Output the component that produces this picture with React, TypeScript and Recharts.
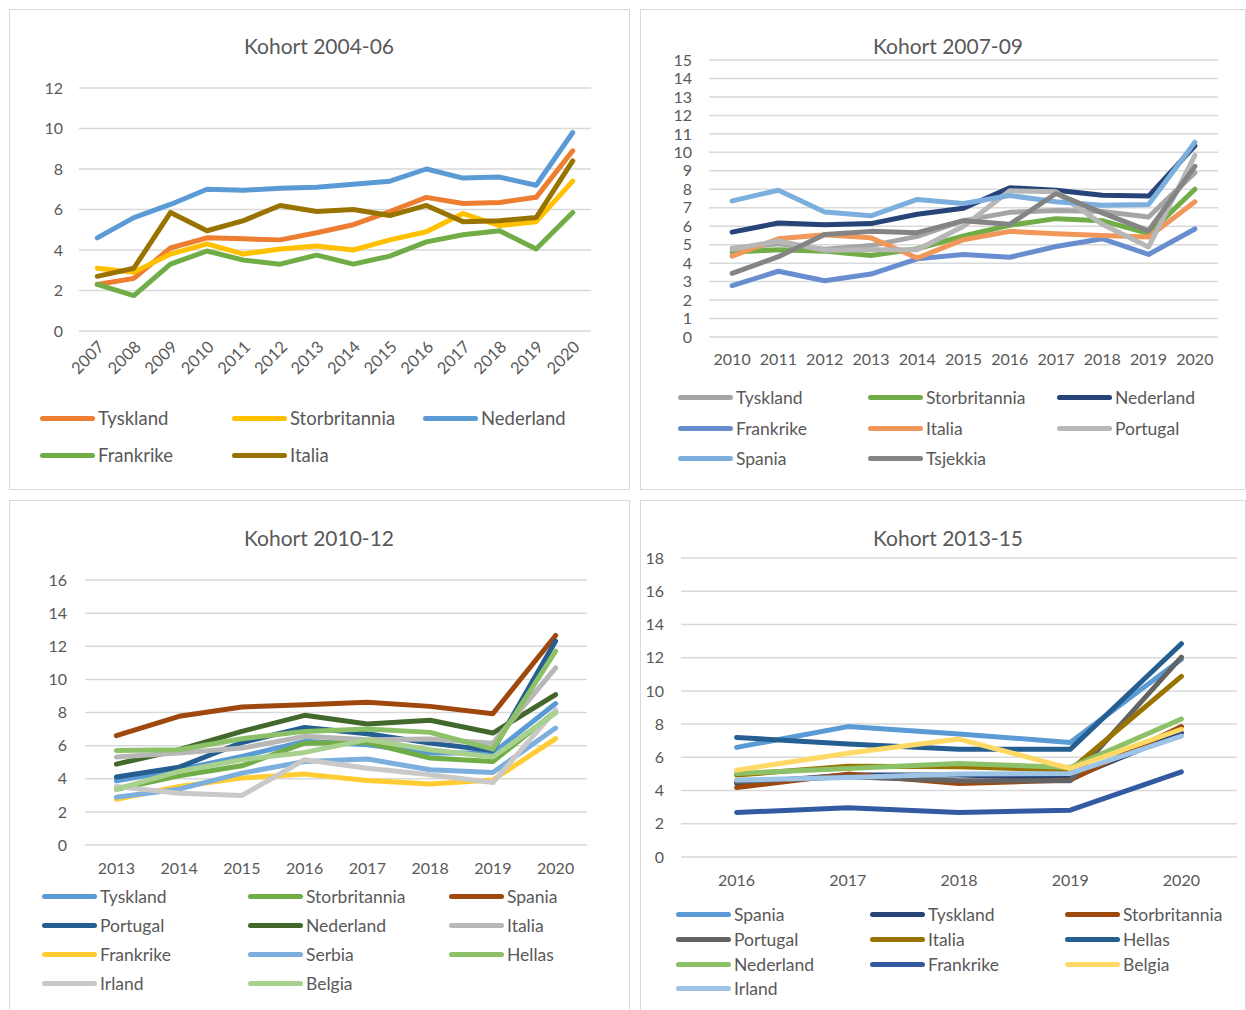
import { CartesianGrid, Line, LineChart, XAxis, YAxis } from "recharts";

const FONT = "Lato, 'Open Sans', sans-serif";
const TEXT = "#595959";
const GRID = "#D9D9D9";

// Kohort 2004-06
const years1 = ["2007", "2008", "2009", "2010", "2011", "2012", "2013", "2014", "2015", "2016", "2017", "2018", "2019", "2020"];
const k1Tyskland = [2.3, 2.6, 4.1, 4.6, 4.55, 4.5, 4.85, 5.25, 5.9, 6.6, 6.3, 6.35, 6.6, 8.9];
const k1Storbritannia = [3.1, 2.9, 3.8, 4.3, 3.8, 4.05, 4.2, 4.0, 4.5, 4.9, 5.8, 5.2, 5.4, 7.4];
const k1Nederland = [4.6, 5.6, 6.25, 7.0, 6.95, 7.05, 7.1, 7.25, 7.4, 8.0, 7.55, 7.6, 7.2, 9.8];
const k1Frankrike = [2.3, 1.75, 3.3, 3.95, 3.5, 3.3, 3.75, 3.3, 3.7, 4.4, 4.75, 4.95, 4.05, 5.85];
const k1Italia = [2.7, 3.1, 5.85, 4.95, 5.45, 6.2, 5.9, 6.0, 5.7, 6.2, 5.4, 5.45, 5.6, 8.4];
const ticks1 = [0, 2, 4, 6, 8, 10, 12];

// Kohort 2007-09
const years2 = ["2010", "2011", "2012", "2013", "2014", "2015", "2016", "2017", "2018", "2019", "2020"];
const k2Tyskland = [4.8, 5.05, 4.75, 4.95, 5.45, 6.3, 6.75, 6.85, 6.8, 6.5, 8.9];
const k2Storbritannia = [4.6, 4.72, 4.65, 4.41, 4.78, 5.47, 6.05, 6.41, 6.3, 5.6, 8.0];
const k2Nederland = [5.68, 6.17, 6.08, 6.14, 6.65, 6.97, 8.08, 7.95, 7.68, 7.63, 10.35];
const k2Frankrike = [2.78, 3.56, 3.05, 3.41, 4.23, 4.47, 4.32, 4.9, 5.32, 4.47, 5.85];
const k2Italia = [4.38, 5.32, 5.54, 5.37, 4.28, 5.27, 5.72, 5.59, 5.5, 5.42, 7.32];
const k2Portugal = [4.75, 5.2, 4.7, 4.72, 4.72, 6.0, 7.92, 7.86, 6.1, 4.88, 9.84];
const k2Spania = [7.37, 7.95, 6.77, 6.56, 7.45, 7.23, 7.66, 7.32, 7.14, 7.17, 10.55];
const k2Tsjekkia = [3.45, 4.35, 5.55, 5.72, 5.65, 6.3, 6.1, 7.77, 6.72, 5.75, 9.24];
const ticks2 = [0, 1, 2, 3, 4, 5, 6, 7, 8, 9, 10, 11, 12, 13, 14, 15];

// Kohort 2010-12
const years3 = ["2013", "2014", "2015", "2016", "2017", "2018", "2019", "2020"];
const k3Tyskland = [3.87, 4.54, 5.35, 6.26, 6.05, 5.55, 5.55, 8.54];
const k3Storbritannia = [3.37, 4.18, 4.78, 6.15, 6.19, 5.25, 5.04, 8.07];
const k3Spania = [6.6, 7.77, 8.33, 8.47, 8.62, 8.37, 7.93, 12.65];
const k3Portugal = [4.1, 4.7, 6.19, 7.1, 6.72, 6.15, 5.71, 12.31];
const k3Nederland = [4.88, 5.75, 6.86, 7.83, 7.3, 7.53, 6.76, 9.08];
const k3Italia = [5.31, 5.55, 5.85, 6.56, 6.36, 6.4, 6.15, 10.69];
const k3Frankrike = [2.76, 3.53, 4.04, 4.28, 3.89, 3.69, 3.93, 6.42];
const k3Serbia = [2.89, 3.37, 4.34, 5.04, 5.19, 4.54, 4.38, 7.06];
const k3Hellas = [5.71, 5.75, 6.42, 6.86, 7.0, 6.8, 5.79, 11.7];
const k3Irland = [3.53, 3.13, 2.99, 5.15, 4.64, 4.24, 3.77, 8.15];
const k3Belgia = [3.37, 4.44, 5.15, 5.59, 6.36, 5.75, 5.31, 7.97];
const ticks3 = [0, 2, 4, 6, 8, 10, 12, 14, 16];

// Kohort 2013-15
const years4 = ["2016", "2017", "2018", "2019", "2020"];
const k4Spania = [6.6, 7.85, 7.4, 6.9, 11.9];
const k4Tyskland = [4.43, 4.93, 4.93, 4.73, 7.48];
const k4Storbritannia = [4.19, 4.99, 4.43, 4.63, 7.85];
const k4Portugal = [4.53, 4.83, 4.59, 4.59, 12.03];
const k4Italia = [4.93, 5.47, 5.43, 5.23, 10.87];
const k4Hellas = [7.2, 6.8, 6.48, 6.48, 12.84];
const k4Nederland = [5.03, 5.33, 5.63, 5.39, 8.31];
const k4Frankrike = [2.68, 2.96, 2.68, 2.82, 5.13];
const k4Belgia = [5.23, 6.24, 7.1, 5.33, 7.69];
const k4Irland = [4.63, 4.79, 4.99, 5.03, 7.28];
const ticks4 = [0, 2, 4, 6, 8, 10, 12, 14, 16, 18];

type Series = { name: string; values: number[]; color: string };

const series1: Series[] = [
  { name: "Tyskland", values: k1Tyskland, color: "#ED7D31" },
  { name: "Storbritannia", values: k1Storbritannia, color: "#FFC000" },
  { name: "Nederland", values: k1Nederland, color: "#5B9BD5" },
  { name: "Frankrike", values: k1Frankrike, color: "#70AD47" },
  { name: "Italia", values: k1Italia, color: "#997300" },
];

const series2: Series[] = [
  { name: "Tyskland", values: k2Tyskland, color: "#A5A5A5" },
  { name: "Storbritannia", values: k2Storbritannia, color: "#70AD47" },
  { name: "Nederland", values: k2Nederland, color: "#264478" },
  { name: "Frankrike", values: k2Frankrike, color: "#698ED0" },
  { name: "Italia", values: k2Italia, color: "#F1975A" },
  { name: "Portugal", values: k2Portugal, color: "#B7B7B7" },
  { name: "Spania", values: k2Spania, color: "#7CAFDD" },
  { name: "Tsjekkia", values: k2Tsjekkia, color: "#848484" },
];

const series3: Series[] = [
  { name: "Tyskland", values: k3Tyskland, color: "#5B9BD5" },
  { name: "Storbritannia", values: k3Storbritannia, color: "#70AD47" },
  { name: "Spania", values: k3Spania, color: "#9E480E" },
  { name: "Portugal", values: k3Portugal, color: "#255E91" },
  { name: "Nederland", values: k3Nederland, color: "#43682B" },
  { name: "Italia", values: k3Italia, color: "#B7B7B7" },
  { name: "Frankrike", values: k3Frankrike, color: "#FFCD33" },
  { name: "Serbia", values: k3Serbia, color: "#7CAFDD" },
  { name: "Hellas", values: k3Hellas, color: "#8CC168" },
  { name: "Irland", values: k3Irland, color: "#C9C9C9" },
  { name: "Belgia", values: k3Belgia, color: "#A9D18E" },
];

const series4: Series[] = [
  { name: "Spania", values: k4Spania, color: "#5B9BD5" },
  { name: "Tyskland", values: k4Tyskland, color: "#264478" },
  { name: "Storbritannia", values: k4Storbritannia, color: "#9E480E" },
  { name: "Portugal", values: k4Portugal, color: "#636363" },
  { name: "Italia", values: k4Italia, color: "#997300" },
  { name: "Hellas", values: k4Hellas, color: "#255E91" },
  { name: "Nederland", values: k4Nederland, color: "#8CC168" },
  { name: "Frankrike", values: k4Frankrike, color: "#335AA1" },
  { name: "Belgia", values: k4Belgia, color: "#FFD966" },
  { name: "Irland", values: k4Irland, color: "#9DC3E6" },
];

type Geo = {
  left: number;
  top: number;
  width: number;
  height: number;
  plotLeft: number;
  plotRight: number;
  plotTop: number;
  plotBottom: number;
};

const AngledTick = (props: any) => {
  const { x, y, payload } = props;
  return (
    <text
      x={x + 4}
      y={y}
      transform={`rotate(-45 ${x + 4} ${y})`}
      textAnchor="end"
      dy="0.35em"
      fill={TEXT}
      fontSize={16.5}
      fontFamily={FONT}
    >
      {payload.value}
    </text>
  );
};

function Cohort({
  years,
  series,
  ticks,
  geo,
  angled,
  xGap,
  yGap,
}: {
  years: string[];
  series: Series[];
  ticks: number[];
  geo: Geo;
  angled?: boolean;
  xGap: number;
  yGap: number;
}) {
  const data = years.map((year, i) => {
    const row: any = { year };
    series.forEach((s) => (row[s.name] = s.values[i]));
    return row;
  });
  const half = (geo.plotRight - geo.plotLeft) / years.length / 2;
  const tickStyle = { fill: TEXT, fontSize: 16, fontFamily: FONT };

  return (
    <div style={{ position: "absolute", left: geo.left, top: geo.top }}>
      <LineChart
        width={geo.width}
        height={geo.height}
        data={data}
        margin={{
          top: geo.plotTop - geo.top,
          right: geo.left + geo.width - geo.plotRight,
          left: 0,
          bottom: 0,
        }}
      >
        <CartesianGrid vertical={false} stroke={GRID} strokeWidth={1.5} />
        <XAxis
          dataKey="year"
          axisLine={false}
          tickLine={false}
          tickSize={0}
          tickMargin={xGap}
          interval={0}
          padding={{ left: half, right: half }}
          height={geo.top + geo.height - geo.plotBottom}
          tick={angled ? <AngledTick /> : tickStyle}
        />
        <YAxis
          domain={[ticks[0], ticks[ticks.length - 1]]}
          ticks={ticks}
          interval={0}
          axisLine={false}
          tickLine={false}
          tickSize={0}
          tickMargin={yGap}
          width={geo.plotLeft - geo.left}
          tick={tickStyle}
        />
        {series.map((s) => (
          <Line
            key={s.name}
            type="linear"
            dataKey={s.name}
            stroke={s.color}
            strokeWidth={5}
            strokeLinecap="round"
            strokeLinejoin="round"
            dot={false}
            activeDot={false}
            isAnimationActive={false}
          />
        ))}
      </LineChart>
    </div>
  );
}

function LegendBlock({
  series,
  cols,
  rows,
  fontSize,
}: {
  series: Series[];
  cols: number[];
  rows: number[];
  fontSize: number;
}) {
  return (
    <>
      {series.map((s, i) => (
        <div
          key={s.name}
          style={{
            position: "absolute",
            left: cols[i % 3],
            top: rows[Math.floor(i / 3)] - 12,
            height: 24,
            display: "flex",
            alignItems: "center",
            fontFamily: FONT,
            fontSize,
            color: TEXT,
            whiteSpace: "nowrap",
          }}
        >
          <span
            style={{
              display: "inline-block",
              width: 55,
              height: 5,
              borderRadius: 3,
              background: s.color,
              marginRight: 3,
            }}
          />
          {s.name}
        </div>
      ))}
    </>
  );
}

function Title({ text, cx, cy }: { text: string; cx: number; cy: number }) {
  return (
    <div
      style={{
        position: "absolute",
        left: cx - 150,
        width: 300,
        top: cy - 14,
        height: 28,
        lineHeight: "28px",
        textAlign: "center",
        fontFamily: FONT,
        fontSize: 21,
        color: TEXT,
      }}
    >
      {text}
    </div>
  );
}

const panel = (left: number, top: number, width: number, height: number) => (
  <div
    style={{
      position: "absolute",
      left,
      top,
      width,
      height,
      border: "1px solid #D9D9D9",
      boxSizing: "border-box",
      background: "#fff",
    }}
  />
);

export default function App() {
  return (
    <div
      style={{
        position: "absolute",
        left: 0,
        top: 0,
        width: 1246,
        height: 1010,
        overflow: "hidden",
        background: "#fff",
      }}
    >
      {panel(9, 9, 621, 481)}
      {panel(640, 9, 606, 481)}
      {panel(9, 500, 621, 530)}
      {panel(640, 500, 606, 530)}

      <Title text="Kohort 2004-06" cx={319} cy={46} />
      <Cohort
        years={years1}
        series={series1}
        ticks={ticks1}
        angled
        xGap={13}
        yGap={16}
        geo={{ left: 10, top: 60, width: 610, height: 330, plotLeft: 79, plotRight: 591, plotTop: 88, plotBottom: 331 }}
      />
      <LegendBlock series={series1} cols={[40, 232, 423]} rows={[418, 455]} fontSize={18.5} />

      <Title text="Kohort 2007-09" cx={948} cy={46} />
      <Cohort
        years={years2}
        series={series2}
        ticks={ticks2}
        xGap={17}
        yGap={17}
        geo={{ left: 641, top: 50, width: 600, height: 325, plotLeft: 709, plotRight: 1218, plotTop: 60, plotBottom: 337 }}
      />
      <LegendBlock series={series2} cols={[678, 868, 1057]} rows={[397, 428, 458]} fontSize={17.5} />

      <Title text="Kohort 2010-12" cx={319} cy={538} />
      <Cohort
        years={years3}
        series={series3}
        ticks={ticks3}
        xGap={18}
        yGap={18}
        geo={{ left: 10, top: 560, width: 610, height: 320, plotLeft: 85, plotRight: 587, plotTop: 580, plotBottom: 845 }}
      />
      <LegendBlock series={series3} cols={[42, 248, 449]} rows={[896, 925, 954, 983]} fontSize={17.5} />

      <Title text="Kohort 2013-15" cx={948} cy={538} />
      <Cohort
        years={years4}
        series={series4}
        ticks={ticks4}
        xGap={18}
        yGap={17}
        geo={{ left: 641, top: 545, width: 604, height: 355, plotLeft: 681, plotRight: 1237, plotTop: 558, plotBottom: 857 }}
      />
      <LegendBlock series={series4} cols={[676, 870, 1065]} rows={[914, 939, 964, 988]} fontSize={17.5} />
    </div>
  );
}
